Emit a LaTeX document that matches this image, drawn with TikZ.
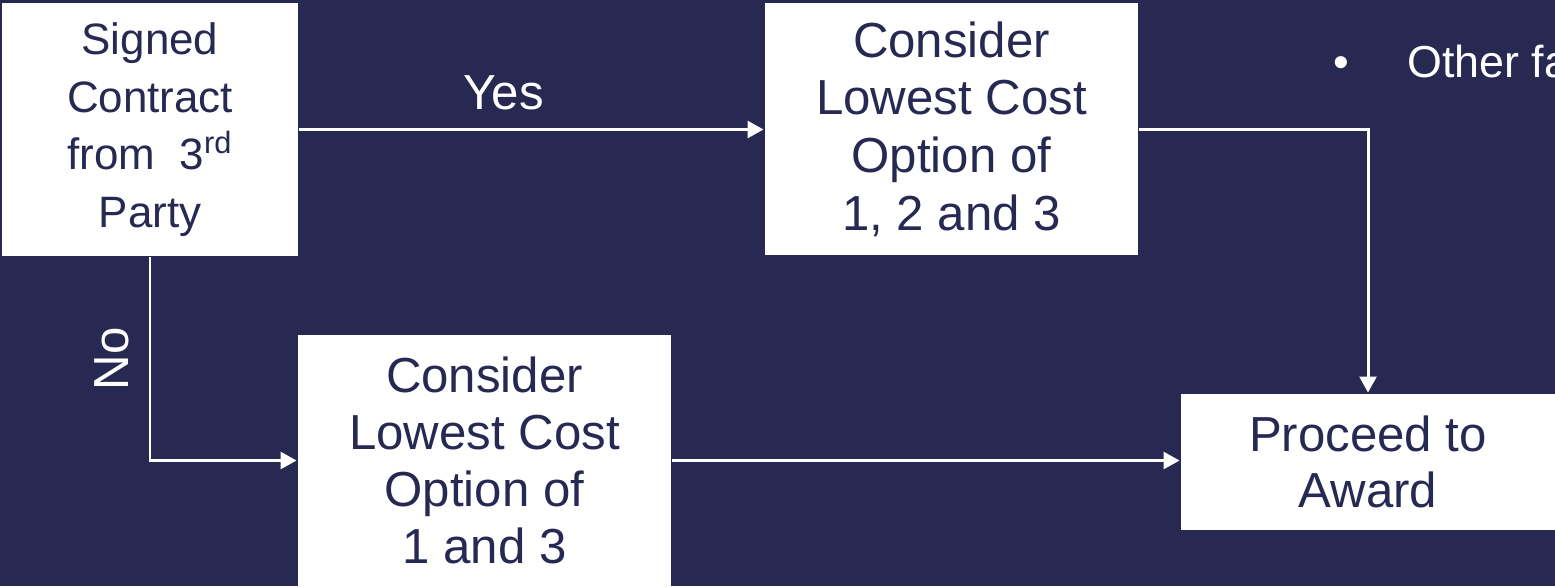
\documentclass[tikz,border=0pt]{standalone}
\usepackage{fontspec}
\setmainfont{Liberation Sans}
\usepackage{xcolor}
\usepackage{tikz}
\usetikzlibrary{arrows.meta}
\usetikzlibrary{calc}
\usetikzlibrary{positioning}
\definecolor{navy}{RGB}{39,41,82}

\begin{document}
\begin{tikzpicture}[x=0.02cm,y=-0.02cm,>={Triangle[width=9.5pt,length=9pt]},line width=1.7pt]
	\tikzstyle{box}=[fill=white, text=navy, align=center, inner sep=0pt, font=\fontsize{28}{32.5}\selectfont]
	\tikzstyle{lbl}=[text=white, inner sep=0pt, font=\fontsize{28}{32.5}\selectfont]
	\tikzstyle{flow}=[->, draw=white]
	\useasboundingbox (0,0) rectangle (1555,586);
	\fill[navy] (0,0) rectangle (1555,586);
	\clip (0,0) rectangle (1555,586);
	\node[box, minimum width=5.92cm, minimum height=5.06cm, font=\fontsize{25}{32.7}\selectfont] (SC) at (150,129.5) {Signed\\Contract\\from\ \ 3\textsuperscript{rd}\\Party};
	\node[box, minimum width=7.46cm, minimum height=5.04cm, font=\fontsize{28}{32.8}\selectfont] (LC) at (951.5,129) {Consider\\Lowest Cost\\Option of\\1, 2 and 3};
	\node[box, minimum width=7.46cm, minimum height=5.02cm] (LN) at (484.5,460.5) {Consider\\Lowest Cost\\Option of\\1 and 3};
	\node[box, minimum width=7.48cm, minimum height=2.72cm, font=\fontsize{28}{32}\selectfont] (PA) at (1368,462) {Proceed to\\Award};
	\node[lbl, anchor=base west, font=\fontsize{25.5}{30}\selectfont] (OF) at (1332,77) {\textbullet\hspace{33pt}Other fa};
	\draw[flow] (SC.east) -- node[lbl, pos=0.44, above=10pt] {Yes} (SC.east -| LC.west);
	\draw[flow] (SC.south) |- node[lbl, pos=0.25, left=11pt] {\rotatebox{90}{No}} (LN.west);
	\draw[flow] (LC.east) -| (PA.north);
	%\draw[flow] (LC.south) -- (LN.north);
	\draw[flow] (LN.east) -- (LN.east -| PA.west);
\end{tikzpicture}
\end{document}
